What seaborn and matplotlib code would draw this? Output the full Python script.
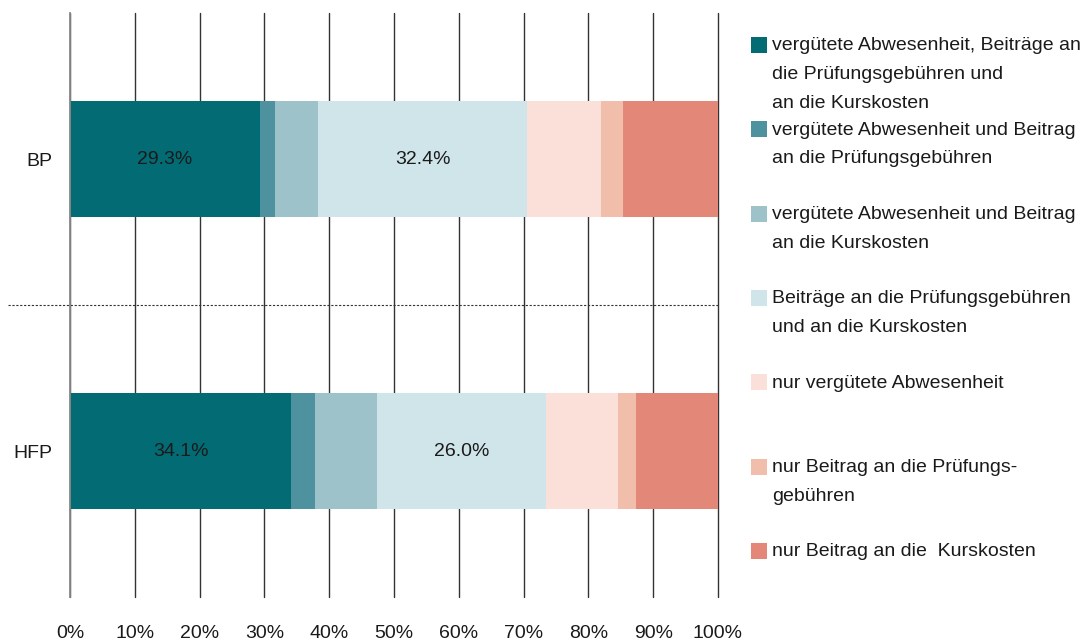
import matplotlib
matplotlib.use("Agg")
import matplotlib.pyplot as plt
from matplotlib.patches import Rectangle
import pandas as pd
import seaborn as sns

# Categories and stacked shares (percent)
categories = ["BP", "HFP"]
series_labels = [
    "vergütete Abwesenheit, Beiträge an\ndie Prüfungsgebühren und\nan die Kurskosten",
    "vergütete Abwesenheit und Beitrag\nan die Prüfungsgebühren",
    "vergütete Abwesenheit und Beitrag\nan die Kurskosten",
    "Beiträge an die Prüfungsgebühren\nund an die Kurskosten",
    "nur vergütete Abwesenheit",
    "nur Beitrag an die Prüfungs-\ngebühren",
    "nur Beitrag an die  Kurskosten",
]
bp_values = [29.3, 2.3, 6.6, 32.4, 11.4, 3.4, 14.6]
hfp_values = [34.1, 3.7, 9.6, 26.0, 11.1, 2.8, 12.7]
labelled_series = [0, 3]  # segments that carry a value label
x_ticks = list(range(0, 101, 10))
x_tick_labels = [f"{v}%" for v in x_ticks]

colors = ["#026B74", "#4E92A0", "#9DC2CA", "#D0E5EA", "#FAE0D8", "#F2BEAC", "#E38878"]

sns.set_style("white")
plt.rcParams["font.family"] = ["Liberation Sans", "DejaVu Sans"]
plt.rcParams["text.color"] = "#1a1a1a"
plt.rcParams["xtick.color"] = "#1a1a1a"
plt.rcParams["ytick.color"] = "#1a1a1a"

FS = 14
W, H = 1085, 643
fig = plt.figure(figsize=(W / 100, H / 100), dpi=100)
ax = fig.add_axes([70 / W, 46 / H, 648 / W, 584 / H])

lefts = [0.0, 0.0]
for i, col in enumerate(colors):
    seg = pd.DataFrame({"category": categories,
                        "value": [bp_values[i], hfp_values[i]]})
    sns.barplot(data=seg, x="value", y="category", orient="h", color=col,
                saturation=1, width=0.4, errorbar=None, linewidth=0,
                left=list(lefts), ax=ax, zorder=2)
    if i in labelled_series:
        vals = seg["value"].tolist()
        ax.bar_label(ax.containers[-1], labels=[f"{v:.1f}%" for v in vals],
                     label_type="center", fontsize=FS, color="#1a1a1a")
    lefts = [lefts[0] + bp_values[i], lefts[1] + hfp_values[i]]

ax.set_xlim(0, 100)
ax.set_ylim(1.5, -0.5)
ax.set_xticks(x_ticks)
ax.set_xticklabels(x_tick_labels, fontsize=FS)
ax.set_xlabel("")
ax.set_ylabel("")
ax.tick_params(axis="x", length=0, pad=20)
ax.tick_params(axis="y", which="major", length=0, pad=13, labelsize=FS)
ax.set_yticks([-0.5, 0.5, 1.5], minor=True)
ax.tick_params(axis="y", which="minor", length=6, width=1, color="#333333")

ax.xaxis.grid(True, color="#333333", linewidth=1)
ax.yaxis.grid(False)
ax.set_axisbelow(True)
for gl in ax.get_xgridlines():
    gl.set_clip_on(False)

for s in ["top", "right", "bottom"]:
    ax.spines[s].set_visible(False)
ax.spines["left"].set_color("#8a8a8a")
ax.spines["left"].set_linewidth(1.3)
ax.spines["left"].set_zorder(3)

# dotted separator between the two groups
ax.plot([-62 / 648, 1], [0.5, 0.5], transform=ax.get_yaxis_transform(),
        linestyle=(0, (2, 1.5)), color="#333333", linewidth=0.8, clip_on=False,
        zorder=1)

# legend drawn as a column of swatches with wrapped labels
for i, (lab, col) in enumerate(zip(series_labels, colors)):
    top = 37 + 84.3 * i
    fig.add_artist(Rectangle((751 / W, 1 - (top + 16) / H), 16 / W, 16 / H,
                             transform=fig.transFigure, facecolor=col,
                             edgecolor="none"))
    fig.text(772 / W, 1 - (top + 0.5) / H, lab, fontsize=FS, va="top",
             ha="left", linespacing=1.9)

fig.savefig("out.png", dpi=100)
